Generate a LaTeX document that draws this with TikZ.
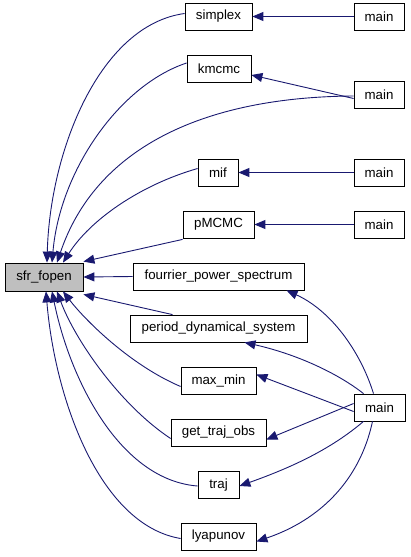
\documentclass[tikz,border=0pt]{standalone}
\usepackage{fontspec}
\setmainfont{Liberation Sans}
\usetikzlibrary{arrows.meta}
\definecolor{edgeblue}{HTML}{191970}
\definecolor{boxgray}{HTML}{BFBFBF}
\tikzset{
  fn/.style={draw=black, line width=0.8pt, rectangle, inner sep=0pt, minimum height=27pt,
    font=\fontsize{13.3}{16}\selectfont, fill=white},
  callarrow/.style={draw=edgeblue, line width=0.9pt, -{Triangle[length=11pt,width=9pt]}}
}
\begin{document}
\begin{tikzpicture}[x=1pt,y=-1pt]
\useasboundingbox (0,0) rectangle (411,557);
% nodes
\node[fn, fill=boxgray, minimum width=78pt, minimum height=28pt] (sfr) at (44,277) {sfr\_fopen};
\node[fn, minimum width=67pt] (simplex) at (218.5,16.5) {simplex};
\node[fn, minimum width=50pt] (mainA) at (379,16.5) {main};
\node[fn, minimum width=64pt] (kmcmc) at (219,69) {kmcmc};
\node[fn, minimum width=50pt] (mainB) at (379,94.5) {main};
\node[fn, minimum width=40pt] (mif) at (218,172.5) {mif};
\node[fn, minimum width=50pt] (mainC) at (379,172.5) {main};
\node[fn, minimum width=71pt] (pmcmc) at (218.5,224.5) {pMCMC};
\node[fn, minimum width=50pt] (mainD) at (379,224.5) {main};
\node[fn, minimum width=171pt] (fourier) at (218.5,276.5) {fourrier\_power\_spectrum};
\node[fn, minimum width=177pt] (period) at (218.5,328.5) {period\_dynamical\_system};
\node[fn, minimum width=75pt] (maxmin) at (218.5,380.5) {max\_min};
\node[fn, minimum width=51pt] (mainE) at (379.5,407.5) {main};
\node[fn, minimum width=95pt] (gettraj) at (218.5,432.5) {get\_traj\_obs};
\node[fn, minimum width=41pt] (traj) at (218.5,485) {traj};
\node[fn, minimum width=75pt] (lyap) at (218.5,536.5) {lyapunov};
% main -> middle
\draw[callarrow] (mainA.west) -- (simplex.east);
\draw[callarrow] ([yshift=-4pt]mainB.west) -- ([yshift=-6pt]kmcmc.east);
\draw[callarrow] (mainC.west) -- (mif.east);
\draw[callarrow] (mainD.west) -- (pmcmc.east);
\draw[callarrow] ([xshift=-6pt]mainE.north) .. controls (360,350) and (330,310) .. ([xshift=68pt]fourier.south);
\draw[callarrow] ([xshift=-16pt]mainE.north) .. controls (340,375) and (300,355) .. ([xshift=26pt]period.south);
\draw[callarrow] ([yshift=-4pt]mainE.west) -- ([yshift=6pt]maxmin.east);
\draw[callarrow] ([yshift=4pt]mainE.west) -- ([yshift=-7pt]gettraj.east);
\draw[callarrow] ([xshift=-16pt]mainE.south) .. controls (330,450) and (290,468) .. ([yshift=-1pt]traj.east);
\draw[callarrow] ([xshift=-7pt]mainE.south) .. controls (360,480) and (320,520) .. ([yshift=-5pt]lyap.east);
% middle -> sfr_fopen
\draw[callarrow] ([yshift=3pt]simplex.west) .. controls (100,25) and (50,150) .. ([xshift=3pt]sfr.north);
\draw[callarrow] ([yshift=6pt]kmcmc.west) .. controls (120,85) and (60,170) .. ([xshift=8pt]sfr.north);
\draw[callarrow] ([yshift=-1.5pt]mainB.west) .. controls (200,97) and (95,150) .. ([xshift=13pt]sfr.north);
\draw[callarrow] ([yshift=4pt]mif.west) .. controls (140,185) and (90,220) .. ([xshift=19pt]sfr.north);
\draw[callarrow] ([yshift=-1pt]pmcmc.south west) -- ([yshift=1pt]sfr.north east);
\draw[callarrow] (fourier.west) -- (sfr.east);
\draw[callarrow] ([xshift=-46pt]period.north) -- ([yshift=-3pt]sfr.south east);
\draw[callarrow] ([yshift=-6pt]maxmin.west) .. controls (130,365) and (85,320) .. ([xshift=19pt]sfr.south);
\draw[callarrow] ([yshift=-6pt]gettraj.west) .. controls (120,405) and (75,340) .. ([xshift=13pt]sfr.south);
\draw[callarrow] ([yshift=-1pt]traj.west) .. controls (120,480) and (70,380) .. ([xshift=8pt]sfr.south);
\draw[callarrow] ([yshift=-2pt]lyap.west) .. controls (100,525) and (55,400) .. ([xshift=2pt]sfr.south);
\end{tikzpicture}
\end{document}
